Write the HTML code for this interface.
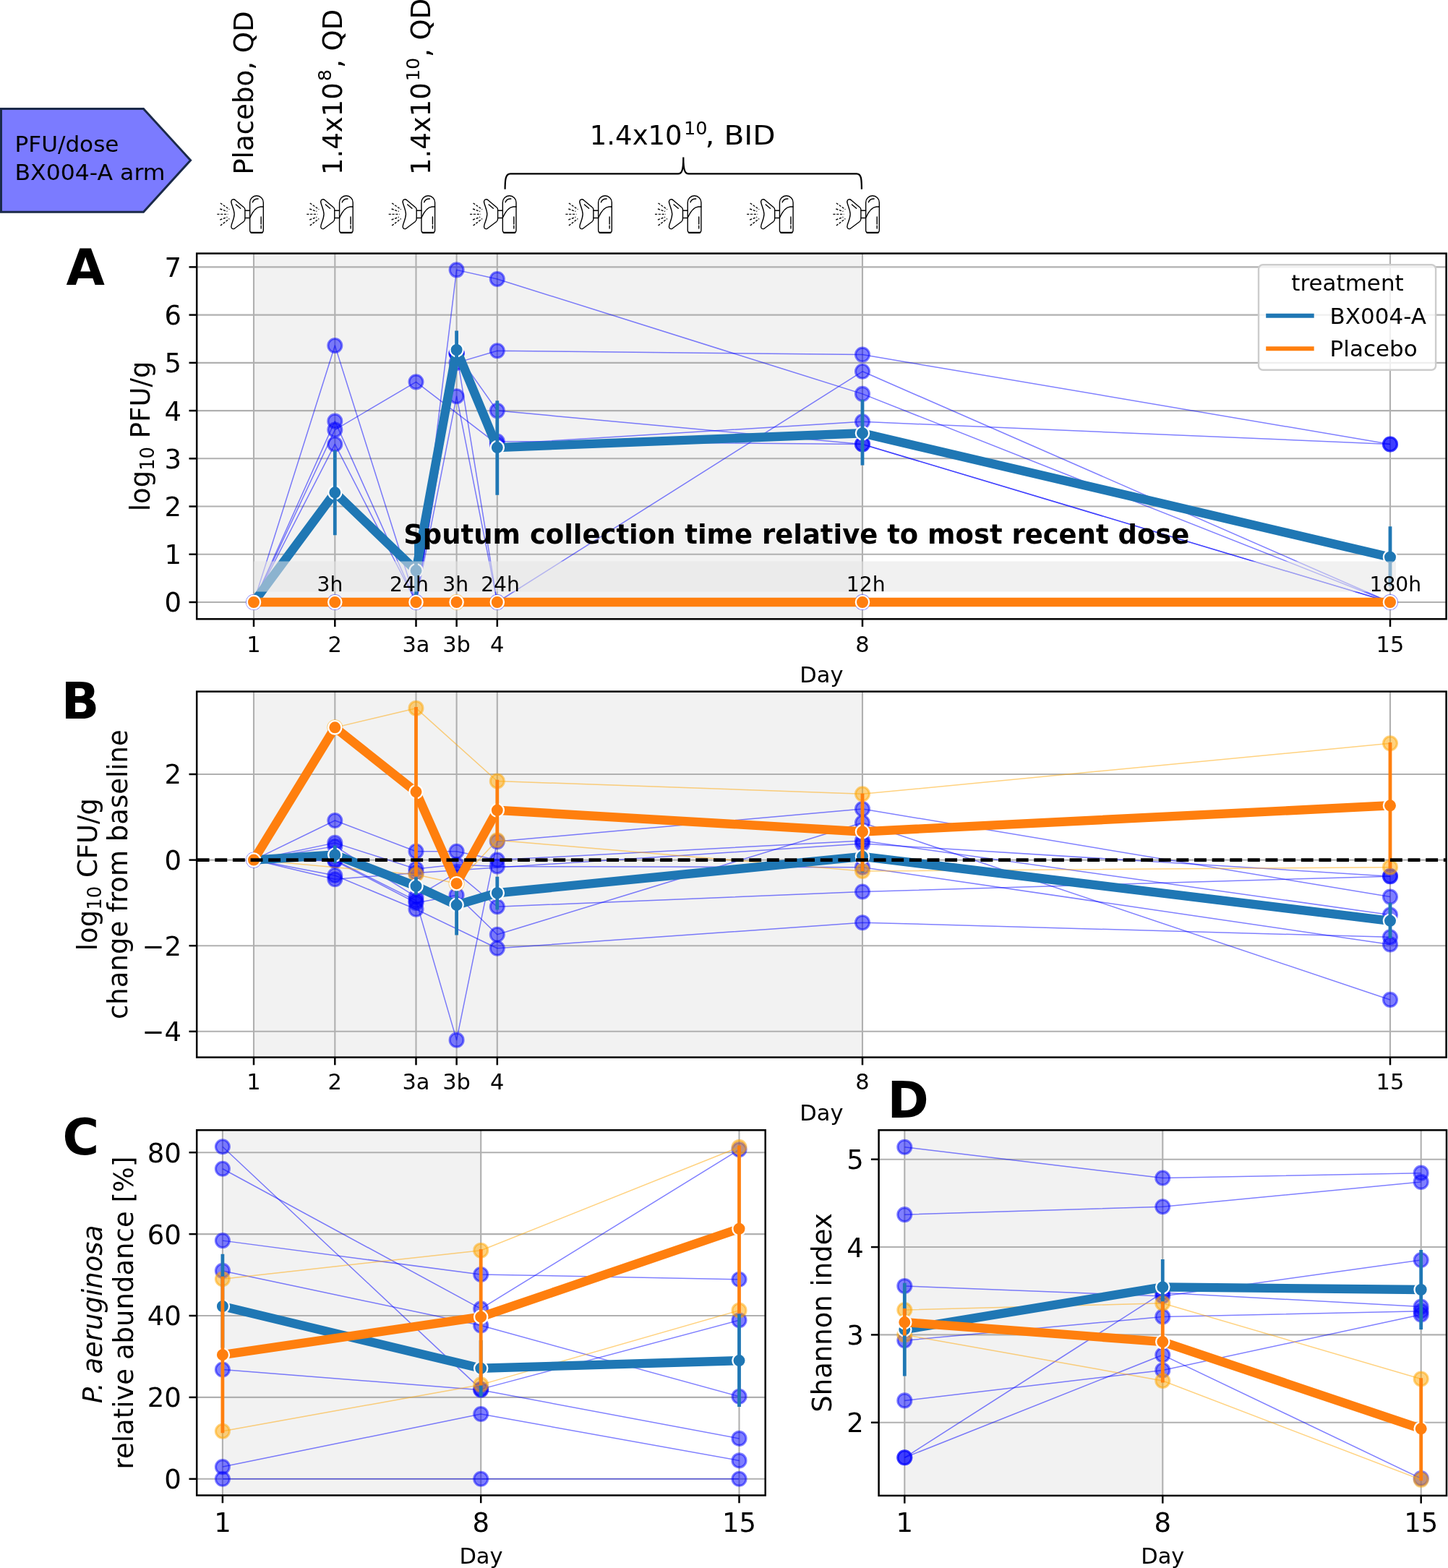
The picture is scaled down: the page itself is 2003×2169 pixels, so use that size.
<!DOCTYPE html><html><head><meta charset="utf-8"><title>Figure</title>
<style>html,body{margin:0;padding:0;background:#fff;overflow:hidden;}svg{display:block;}text{font-family:'DejaVu Sans', 'Liberation Sans', sans-serif;fill:#000;}</style></head><body>
<svg width="2003" height="2169" viewBox="0 0 2003 2169">
<defs>
<clipPath id="cA"><rect x="272.2" y="350.6" width="1728.4" height="505.7"/></clipPath>
<clipPath id="cB"><rect x="272.2" y="956.6" width="1728.4" height="506"/></clipPath>
<clipPath id="cC"><rect x="272.2" y="1563.3" width="786.5" height="505.2"/></clipPath>
<clipPath id="cD"><rect x="1215.6" y="1563.3" width="785.4" height="505.6"/></clipPath>
</defs>
<rect width="2003" height="2169" fill="#fff"/>
<polygon points="1.5,150.5 198.5,150.5 263.6,221.7 198.5,293.2 1.5,293.2" fill="#7b7bff" stroke="#1b2a4a" stroke-width="3"/>
<text x="20.5" y="210.3" font-size="29.5" textLength="144" lengthAdjust="spacingAndGlyphs">PFU/dose</text>
<text x="20.5" y="248.9" font-size="29.5" textLength="208" lengthAdjust="spacingAndGlyphs">BX004-A arm</text>
<text transform="translate(350.2,241.8) rotate(-90)" font-size="37" textLength="226.5" lengthAdjust="spacingAndGlyphs">Placebo, QD</text>
<text transform="translate(473.2,242) rotate(-90)" font-size="37">1.4x10</text>
<text transform="translate(457.6,112.3) rotate(-90)" font-size="25.6">8</text>
<text transform="translate(473.2,94) rotate(-90)" font-size="37">, QD</text>
<text transform="translate(595.2,242) rotate(-90)" font-size="37">1.4x10</text>
<text transform="translate(579.6,112.3) rotate(-90)" font-size="25.6">10</text>
<text transform="translate(595.2,79) rotate(-90)" font-size="37">, QD</text>
<text x="815.8" y="200.1" font-size="37">1.4x10</text>
<text x="946" y="185.5" font-size="25.6">10</text>
<text x="975.6" y="200.1" font-size="37" textLength="97" lengthAdjust="spacingAndGlyphs">, BID</text>
<path d="M698.6,261.8 C698.6,248 699.5,240.3 706,240.3 L938,240.3 C943,240.3 945.3,236 945.3,217.4 C945.3,236 947.6,240.3 952.6,240.3 L1185,240.3 C1191.5,240.3 1191.9,248 1191.9,261.8" fill="none" stroke="#000" stroke-width="2.2"/>
<g transform="translate(288.9,260) scale(0.05)"><g fill="none" stroke="#000" stroke-width="28" stroke-linecap="round" stroke-linejoin="round">
<path d="M1135,400 A186.5,185 0 0 1 1508,400 L1508,1172 Q1508,1240 1440,1240 L1203,1240 Q1135,1240 1135,1172 Z"/>
<path d="M1165,1236 L1478,1236" stroke-width="38"/>
<path d="M1210,395 Q1240,300 1365,300"/>
<path d="M1140,815 C1200,680 1300,530 1430,520 L1508,520"/>
<path d="M1445,800 L1445,1000 M1445,1045 L1445,1120"/>
<path d="M1005,625 L1135,625 M1005,830 L1135,830"/>
<path d="M690,315 C640,310 605,350 625,420 C645,500 700,600 705,725 C700,850 645,950 625,1030 C605,1100 640,1145 700,1130 L960,935 C990,910 1000,885 1000,850 L1000,600 C1000,570 990,550 960,530 L740,345 C725,328 710,318 690,315 Z"/>
<path d="M750,460 L875,565"/>
<path d="M320,420 L570,595 M310,580 L510,650 M230,727 L530,727 M310,880 L510,805 M320,1040 L570,850" stroke-dasharray="62 34" stroke-linecap="butt"/>
</g></g>
<g transform="translate(412.8,260) scale(0.05)"><g fill="none" stroke="#000" stroke-width="28" stroke-linecap="round" stroke-linejoin="round">
<path d="M1135,400 A186.5,185 0 0 1 1508,400 L1508,1172 Q1508,1240 1440,1240 L1203,1240 Q1135,1240 1135,1172 Z"/>
<path d="M1165,1236 L1478,1236" stroke-width="38"/>
<path d="M1210,395 Q1240,300 1365,300"/>
<path d="M1140,815 C1200,680 1300,530 1430,520 L1508,520"/>
<path d="M1445,800 L1445,1000 M1445,1045 L1445,1120"/>
<path d="M1005,625 L1135,625 M1005,830 L1135,830"/>
<path d="M690,315 C640,310 605,350 625,420 C645,500 700,600 705,725 C700,850 645,950 625,1030 C605,1100 640,1145 700,1130 L960,935 C990,910 1000,885 1000,850 L1000,600 C1000,570 990,550 960,530 L740,345 C725,328 710,318 690,315 Z"/>
<path d="M750,460 L875,565"/>
<path d="M320,420 L570,595 M310,580 L510,650 M230,727 L530,727 M310,880 L510,805 M320,1040 L570,850" stroke-dasharray="62 34" stroke-linecap="butt"/>
</g></g>
<g transform="translate(526.2,260) scale(0.05)"><g fill="none" stroke="#000" stroke-width="28" stroke-linecap="round" stroke-linejoin="round">
<path d="M1135,400 A186.5,185 0 0 1 1508,400 L1508,1172 Q1508,1240 1440,1240 L1203,1240 Q1135,1240 1135,1172 Z"/>
<path d="M1165,1236 L1478,1236" stroke-width="38"/>
<path d="M1210,395 Q1240,300 1365,300"/>
<path d="M1140,815 C1200,680 1300,530 1430,520 L1508,520"/>
<path d="M1445,800 L1445,1000 M1445,1045 L1445,1120"/>
<path d="M1005,625 L1135,625 M1005,830 L1135,830"/>
<path d="M690,315 C640,310 605,350 625,420 C645,500 700,600 705,725 C700,850 645,950 625,1030 C605,1100 640,1145 700,1130 L960,935 C990,910 1000,885 1000,850 L1000,600 C1000,570 990,550 960,530 L740,345 C725,328 710,318 690,315 Z"/>
<path d="M750,460 L875,565"/>
<path d="M320,420 L570,595 M310,580 L510,650 M230,727 L530,727 M310,880 L510,805 M320,1040 L570,850" stroke-dasharray="62 34" stroke-linecap="butt"/>
</g></g>
<g transform="translate(638.6,260) scale(0.05)"><g fill="none" stroke="#000" stroke-width="28" stroke-linecap="round" stroke-linejoin="round">
<path d="M1135,400 A186.5,185 0 0 1 1508,400 L1508,1172 Q1508,1240 1440,1240 L1203,1240 Q1135,1240 1135,1172 Z"/>
<path d="M1165,1236 L1478,1236" stroke-width="38"/>
<path d="M1210,395 Q1240,300 1365,300"/>
<path d="M1140,815 C1200,680 1300,530 1430,520 L1508,520"/>
<path d="M1445,800 L1445,1000 M1445,1045 L1445,1120"/>
<path d="M1005,625 L1135,625 M1005,830 L1135,830"/>
<path d="M690,315 C640,310 605,350 625,420 C645,500 700,600 705,725 C700,850 645,950 625,1030 C605,1100 640,1145 700,1130 L960,935 C990,910 1000,885 1000,850 L1000,600 C1000,570 990,550 960,530 L740,345 C725,328 710,318 690,315 Z"/>
<path d="M750,460 L875,565"/>
<path d="M320,420 L570,595 M310,580 L510,650 M230,727 L530,727 M310,880 L510,805 M320,1040 L570,850" stroke-dasharray="62 34" stroke-linecap="butt"/>
</g></g>
<g transform="translate(770.9,260) scale(0.05)"><g fill="none" stroke="#000" stroke-width="28" stroke-linecap="round" stroke-linejoin="round">
<path d="M1135,400 A186.5,185 0 0 1 1508,400 L1508,1172 Q1508,1240 1440,1240 L1203,1240 Q1135,1240 1135,1172 Z"/>
<path d="M1165,1236 L1478,1236" stroke-width="38"/>
<path d="M1210,395 Q1240,300 1365,300"/>
<path d="M1140,815 C1200,680 1300,530 1430,520 L1508,520"/>
<path d="M1445,800 L1445,1000 M1445,1045 L1445,1120"/>
<path d="M1005,625 L1135,625 M1005,830 L1135,830"/>
<path d="M690,315 C640,310 605,350 625,420 C645,500 700,600 705,725 C700,850 645,950 625,1030 C605,1100 640,1145 700,1130 L960,935 C990,910 1000,885 1000,850 L1000,600 C1000,570 990,550 960,530 L740,345 C725,328 710,318 690,315 Z"/>
<path d="M750,460 L875,565"/>
<path d="M320,420 L570,595 M310,580 L510,650 M230,727 L530,727 M310,880 L510,805 M320,1040 L570,850" stroke-dasharray="62 34" stroke-linecap="butt"/>
</g></g>
<g transform="translate(894.5,260) scale(0.05)"><g fill="none" stroke="#000" stroke-width="28" stroke-linecap="round" stroke-linejoin="round">
<path d="M1135,400 A186.5,185 0 0 1 1508,400 L1508,1172 Q1508,1240 1440,1240 L1203,1240 Q1135,1240 1135,1172 Z"/>
<path d="M1165,1236 L1478,1236" stroke-width="38"/>
<path d="M1210,395 Q1240,300 1365,300"/>
<path d="M1140,815 C1200,680 1300,530 1430,520 L1508,520"/>
<path d="M1445,800 L1445,1000 M1445,1045 L1445,1120"/>
<path d="M1005,625 L1135,625 M1005,830 L1135,830"/>
<path d="M690,315 C640,310 605,350 625,420 C645,500 700,600 705,725 C700,850 645,950 625,1030 C605,1100 640,1145 700,1130 L960,935 C990,910 1000,885 1000,850 L1000,600 C1000,570 990,550 960,530 L740,345 C725,328 710,318 690,315 Z"/>
<path d="M750,460 L875,565"/>
<path d="M320,420 L570,595 M310,580 L510,650 M230,727 L530,727 M310,880 L510,805 M320,1040 L570,850" stroke-dasharray="62 34" stroke-linecap="butt"/>
</g></g>
<g transform="translate(1021.7,260) scale(0.05)"><g fill="none" stroke="#000" stroke-width="28" stroke-linecap="round" stroke-linejoin="round">
<path d="M1135,400 A186.5,185 0 0 1 1508,400 L1508,1172 Q1508,1240 1440,1240 L1203,1240 Q1135,1240 1135,1172 Z"/>
<path d="M1165,1236 L1478,1236" stroke-width="38"/>
<path d="M1210,395 Q1240,300 1365,300"/>
<path d="M1140,815 C1200,680 1300,530 1430,520 L1508,520"/>
<path d="M1445,800 L1445,1000 M1445,1045 L1445,1120"/>
<path d="M1005,625 L1135,625 M1005,830 L1135,830"/>
<path d="M690,315 C640,310 605,350 625,420 C645,500 700,600 705,725 C700,850 645,950 625,1030 C605,1100 640,1145 700,1130 L960,935 C990,910 1000,885 1000,850 L1000,600 C1000,570 990,550 960,530 L740,345 C725,328 710,318 690,315 Z"/>
<path d="M750,460 L875,565"/>
<path d="M320,420 L570,595 M310,580 L510,650 M230,727 L530,727 M310,880 L510,805 M320,1040 L570,850" stroke-dasharray="62 34" stroke-linecap="butt"/>
</g></g>
<g transform="translate(1140.9,260) scale(0.05)"><g fill="none" stroke="#000" stroke-width="28" stroke-linecap="round" stroke-linejoin="round">
<path d="M1135,400 A186.5,185 0 0 1 1508,400 L1508,1172 Q1508,1240 1440,1240 L1203,1240 Q1135,1240 1135,1172 Z"/>
<path d="M1165,1236 L1478,1236" stroke-width="38"/>
<path d="M1210,395 Q1240,300 1365,300"/>
<path d="M1140,815 C1200,680 1300,530 1430,520 L1508,520"/>
<path d="M1445,800 L1445,1000 M1445,1045 L1445,1120"/>
<path d="M1005,625 L1135,625 M1005,830 L1135,830"/>
<path d="M690,315 C640,310 605,350 625,420 C645,500 700,600 705,725 C700,850 645,950 625,1030 C605,1100 640,1145 700,1130 L960,935 C990,910 1000,885 1000,850 L1000,600 C1000,570 990,550 960,530 L740,345 C725,328 710,318 690,315 Z"/>
<path d="M750,460 L875,565"/>
<path d="M320,420 L570,595 M310,580 L510,650 M230,727 L530,727 M310,880 L510,805 M320,1040 L570,850" stroke-dasharray="62 34" stroke-linecap="butt"/>
</g></g>
<rect x="351" y="350.6" width="842" height="505.7" fill="#f2f2f2"/>
<line x1="351" y1="350.6" x2="351" y2="856.3" stroke="#b0b0b0" stroke-width="2.1"/>
<line x1="463.3" y1="350.6" x2="463.3" y2="856.3" stroke="#b0b0b0" stroke-width="2.1"/>
<line x1="575.5" y1="350.6" x2="575.5" y2="856.3" stroke="#b0b0b0" stroke-width="2.1"/>
<line x1="631.6" y1="350.6" x2="631.6" y2="856.3" stroke="#b0b0b0" stroke-width="2.1"/>
<line x1="687.8" y1="350.6" x2="687.8" y2="856.3" stroke="#b0b0b0" stroke-width="2.1"/>
<line x1="1193" y1="350.6" x2="1193" y2="856.3" stroke="#b0b0b0" stroke-width="2.1"/>
<line x1="1923" y1="350.6" x2="1923" y2="856.3" stroke="#b0b0b0" stroke-width="2.1"/>
<line x1="272.2" y1="833" x2="2000.6" y2="833" stroke="#b0b0b0" stroke-width="2.1"/>
<line x1="272.2" y1="766.77" x2="2000.6" y2="766.77" stroke="#b0b0b0" stroke-width="2.1"/>
<line x1="272.2" y1="700.54" x2="2000.6" y2="700.54" stroke="#b0b0b0" stroke-width="2.1"/>
<line x1="272.2" y1="634.31" x2="2000.6" y2="634.31" stroke="#b0b0b0" stroke-width="2.1"/>
<line x1="272.2" y1="568.08" x2="2000.6" y2="568.08" stroke="#b0b0b0" stroke-width="2.1"/>
<line x1="272.2" y1="501.85" x2="2000.6" y2="501.85" stroke="#b0b0b0" stroke-width="2.1"/>
<line x1="272.2" y1="435.62" x2="2000.6" y2="435.62" stroke="#b0b0b0" stroke-width="2.1"/>
<line x1="272.2" y1="369.39" x2="2000.6" y2="369.39" stroke="#b0b0b0" stroke-width="2.1"/>
<g clip-path="url(#cA)">
<polyline points="351,833 463.3,478.01 575.5,833 631.6,373.36 687.8,385.95 1193,544.9 1923,833" fill="none" stroke="#0000ff" stroke-width="1.5" stroke-opacity="0.5" stroke-linejoin="round"/>
<circle cx="351" cy="833" r="9.5" fill="#0000ff" fill-opacity="0.5" stroke="#0000ff" stroke-opacity="0.5" stroke-width="3.1"/>
<circle cx="463.3" cy="478.01" r="9.5" fill="#0000ff" fill-opacity="0.5" stroke="#0000ff" stroke-opacity="0.5" stroke-width="3.1"/>
<circle cx="575.5" cy="833" r="9.5" fill="#0000ff" fill-opacity="0.5" stroke="#0000ff" stroke-opacity="0.5" stroke-width="3.1"/>
<circle cx="631.6" cy="373.36" r="9.5" fill="#0000ff" fill-opacity="0.5" stroke="#0000ff" stroke-opacity="0.5" stroke-width="3.1"/>
<circle cx="687.8" cy="385.95" r="9.5" fill="#0000ff" fill-opacity="0.5" stroke="#0000ff" stroke-opacity="0.5" stroke-width="3.1"/>
<circle cx="1193" cy="544.9" r="9.5" fill="#0000ff" fill-opacity="0.5" stroke="#0000ff" stroke-opacity="0.5" stroke-width="3.1"/>
<circle cx="1923" cy="833" r="9.5" fill="#0000ff" fill-opacity="0.5" stroke="#0000ff" stroke-opacity="0.5" stroke-width="3.1"/>
<polyline points="351,833 463.3,594.57 575.5,528.34 687.8,614.44 1193,583.31 1923,614.44" fill="none" stroke="#0000ff" stroke-width="1.5" stroke-opacity="0.5" stroke-linejoin="round"/>
<circle cx="463.3" cy="594.57" r="9.5" fill="#0000ff" fill-opacity="0.5" stroke="#0000ff" stroke-opacity="0.5" stroke-width="3.1"/>
<circle cx="575.5" cy="528.34" r="9.5" fill="#0000ff" fill-opacity="0.5" stroke="#0000ff" stroke-opacity="0.5" stroke-width="3.1"/>
<circle cx="687.8" cy="614.44" r="9.5" fill="#0000ff" fill-opacity="0.5" stroke="#0000ff" stroke-opacity="0.5" stroke-width="3.1"/>
<circle cx="1193" cy="583.31" r="9.5" fill="#0000ff" fill-opacity="0.5" stroke="#0000ff" stroke-opacity="0.5" stroke-width="3.1"/>
<circle cx="1923" cy="614.44" r="9.5" fill="#0000ff" fill-opacity="0.5" stroke="#0000ff" stroke-opacity="0.5" stroke-width="3.1"/>
<polyline points="351,833 463.3,582.65 575.5,833 631.6,548.21 687.8,833 1193,513.77 1923,833" fill="none" stroke="#0000ff" stroke-width="1.5" stroke-opacity="0.5" stroke-linejoin="round"/>
<circle cx="463.3" cy="582.65" r="9.5" fill="#0000ff" fill-opacity="0.5" stroke="#0000ff" stroke-opacity="0.5" stroke-width="3.1"/>
<circle cx="631.6" cy="548.21" r="9.5" fill="#0000ff" fill-opacity="0.5" stroke="#0000ff" stroke-opacity="0.5" stroke-width="3.1"/>
<circle cx="687.8" cy="833" r="9.5" fill="#0000ff" fill-opacity="0.5" stroke="#0000ff" stroke-opacity="0.5" stroke-width="3.1"/>
<circle cx="1193" cy="513.77" r="9.5" fill="#0000ff" fill-opacity="0.5" stroke="#0000ff" stroke-opacity="0.5" stroke-width="3.1"/>
<polyline points="351,833 463.3,614.44 575.5,833 631.6,501.85 687.8,485.29 1193,490.59 1923,614.44" fill="none" stroke="#0000ff" stroke-width="1.5" stroke-opacity="0.5" stroke-linejoin="round"/>
<circle cx="463.3" cy="614.44" r="9.5" fill="#0000ff" fill-opacity="0.5" stroke="#0000ff" stroke-opacity="0.5" stroke-width="3.1"/>
<circle cx="631.6" cy="501.85" r="9.5" fill="#0000ff" fill-opacity="0.5" stroke="#0000ff" stroke-opacity="0.5" stroke-width="3.1"/>
<circle cx="687.8" cy="485.29" r="9.5" fill="#0000ff" fill-opacity="0.5" stroke="#0000ff" stroke-opacity="0.5" stroke-width="3.1"/>
<circle cx="1193" cy="490.59" r="9.5" fill="#0000ff" fill-opacity="0.5" stroke="#0000ff" stroke-opacity="0.5" stroke-width="3.1"/>
<circle cx="1923" cy="614.44" r="9.5" fill="#0000ff" fill-opacity="0.5" stroke="#0000ff" stroke-opacity="0.5" stroke-width="3.1"/>
<polyline points="351,833 463.3,833 575.5,833 631.6,488.6 687.8,568.08 1193,614.44 1923,833" fill="none" stroke="#0000ff" stroke-width="1.5" stroke-opacity="0.5" stroke-linejoin="round"/>
<circle cx="463.3" cy="833" r="9.5" fill="#0000ff" fill-opacity="0.5" stroke="#0000ff" stroke-opacity="0.5" stroke-width="3.1"/>
<circle cx="631.6" cy="488.6" r="9.5" fill="#0000ff" fill-opacity="0.5" stroke="#0000ff" stroke-opacity="0.5" stroke-width="3.1"/>
<circle cx="687.8" cy="568.08" r="9.5" fill="#0000ff" fill-opacity="0.5" stroke="#0000ff" stroke-opacity="0.5" stroke-width="3.1"/>
<circle cx="1193" cy="614.44" r="9.5" fill="#0000ff" fill-opacity="0.5" stroke="#0000ff" stroke-opacity="0.5" stroke-width="3.1"/>
<polyline points="351,833 463.3,833 575.5,833 631.6,488.6 687.8,610.47 1193,614.44 1923,833" fill="none" stroke="#0000ff" stroke-width="1.5" stroke-opacity="0.5" stroke-linejoin="round"/>
<circle cx="631.6" cy="488.6" r="9.5" fill="#0000ff" fill-opacity="0.5" stroke="#0000ff" stroke-opacity="0.5" stroke-width="3.1"/>
<circle cx="687.8" cy="610.47" r="9.5" fill="#0000ff" fill-opacity="0.5" stroke="#0000ff" stroke-opacity="0.5" stroke-width="3.1"/>
<circle cx="1193" cy="614.44" r="9.5" fill="#0000ff" fill-opacity="0.5" stroke="#0000ff" stroke-opacity="0.5" stroke-width="3.1"/>
<polyline points="351,833 463.3,833 575.5,833 631.6,488.6 687.8,833 1193,833 1923,833" fill="none" stroke="#0000ff" stroke-width="1.5" stroke-opacity="0.5" stroke-linejoin="round"/>
<circle cx="631.6" cy="488.6" r="9.5" fill="#0000ff" fill-opacity="0.5" stroke="#0000ff" stroke-opacity="0.5" stroke-width="3.1"/>
<circle cx="1193" cy="833" r="9.5" fill="#0000ff" fill-opacity="0.5" stroke="#0000ff" stroke-opacity="0.5" stroke-width="3.1"/>
<polyline points="351,833 463.3,833 575.5,833 687.8,833 1193,833 1923,833" fill="none" stroke="#ffa500" stroke-width="1.5" stroke-opacity="0.5" stroke-linejoin="round"/>
<polyline points="351,833 575.5,833 631.6,833 687.8,833 1193,833 1923,833" fill="none" stroke="#ffa500" stroke-width="1.5" stroke-opacity="0.5" stroke-linejoin="round"/>
<circle cx="631.6" cy="833" r="9.5" fill="#ffa500" fill-opacity="0.5" stroke="#ffa500" stroke-opacity="0.5" stroke-width="3.1"/>
<polyline points="351,833 463.3,681.33 575.5,789.29 631.6,483.97 687.8,619.08 1193,599.21 1923,770.74" fill="none" stroke="#1f77b4" stroke-width="12.4" stroke-linejoin="round"/>
<circle cx="351" cy="833" r="9.15" fill="#1f77b4" stroke="#fff" stroke-width="2.3"/>
<circle cx="463.3" cy="681.33" r="9.15" fill="#1f77b4" stroke="#fff" stroke-width="2.3"/>
<circle cx="575.5" cy="789.29" r="9.15" fill="#1f77b4" stroke="#fff" stroke-width="2.3"/>
<circle cx="631.6" cy="483.97" r="9.15" fill="#1f77b4" stroke="#fff" stroke-width="2.3"/>
<circle cx="687.8" cy="619.08" r="9.15" fill="#1f77b4" stroke="#fff" stroke-width="2.3"/>
<circle cx="1193" cy="599.21" r="9.15" fill="#1f77b4" stroke="#fff" stroke-width="2.3"/>
<circle cx="1923" cy="770.74" r="9.15" fill="#1f77b4" stroke="#fff" stroke-width="2.3"/>
<line x1="463.3" y1="740.28" x2="463.3" y2="623.05" stroke="#1f77b4" stroke-width="4.8"/>
<line x1="575.5" y1="826.38" x2="575.5" y2="746.9" stroke="#1f77b4" stroke-width="4.8"/>
<line x1="631.6" y1="501.85" x2="631.6" y2="457.48" stroke="#1f77b4" stroke-width="4.8"/>
<line x1="687.8" y1="684.64" x2="687.8" y2="554.17" stroke="#1f77b4" stroke-width="4.8"/>
<line x1="1193" y1="643.58" x2="1193" y2="552.85" stroke="#1f77b4" stroke-width="4.8"/>
<line x1="1923" y1="810.48" x2="1923" y2="728.36" stroke="#1f77b4" stroke-width="4.8"/>
<polyline points="351,833 463.3,833 575.5,833 631.6,833 687.8,833 1193,833 1923,833" fill="none" stroke="#ff7f0e" stroke-width="12.4" stroke-linejoin="round"/>
<circle cx="351" cy="833" r="9.15" fill="#ff7f0e" stroke="#fff" stroke-width="2.3"/>
<circle cx="463.3" cy="833" r="9.15" fill="#ff7f0e" stroke="#fff" stroke-width="2.3"/>
<circle cx="575.5" cy="833" r="9.15" fill="#ff7f0e" stroke="#fff" stroke-width="2.3"/>
<circle cx="631.6" cy="833" r="9.15" fill="#ff7f0e" stroke="#fff" stroke-width="2.3"/>
<circle cx="687.8" cy="833" r="9.15" fill="#ff7f0e" stroke="#fff" stroke-width="2.3"/>
<circle cx="1193" cy="833" r="9.15" fill="#ff7f0e" stroke="#fff" stroke-width="2.3"/>
<circle cx="1923" cy="833" r="9.15" fill="#ff7f0e" stroke="#fff" stroke-width="2.3"/>
<rect x="351" y="776.5" width="580" height="42" fill="#e6e6e6" fill-opacity="0.55"/>
<rect x="931" y="776.5" width="1000" height="42" fill="#e6e6e6" fill-opacity="0.55"/>
</g>
<text x="456.4" y="817.9" font-size="28.2" text-anchor="middle">3h</text>
<text x="565.9" y="817.9" font-size="28.2" text-anchor="middle">24h</text>
<text x="630.2" y="817.9" font-size="28.2" text-anchor="middle">3h</text>
<text x="692" y="817.9" font-size="28.2" text-anchor="middle">24h</text>
<text x="1197.7" y="817.9" font-size="28.2" text-anchor="middle">12h</text>
<text x="1930.3" y="817.9" font-size="28.2" text-anchor="middle">180h</text>
<text x="1101.8" y="752.1" font-size="36.95" text-anchor="middle" font-weight="bold">Sputum collection time relative to most recent dose</text>
<rect x="272.2" y="350.6" width="1728.4" height="505.7" fill="none" stroke="#000" stroke-width="2.5"/>
<line x1="351" y1="856.3" x2="351" y2="867" stroke="#000" stroke-width="2.5"/>
<text x="351" y="901.8" font-size="30.5" text-anchor="middle">1</text>
<line x1="463.3" y1="856.3" x2="463.3" y2="867" stroke="#000" stroke-width="2.5"/>
<text x="463.3" y="901.8" font-size="30.5" text-anchor="middle">2</text>
<line x1="575.5" y1="856.3" x2="575.5" y2="867" stroke="#000" stroke-width="2.5"/>
<text x="575.5" y="901.8" font-size="30.5" text-anchor="middle">3a</text>
<line x1="631.6" y1="856.3" x2="631.6" y2="867" stroke="#000" stroke-width="2.5"/>
<text x="631.6" y="901.8" font-size="30.5" text-anchor="middle">3b</text>
<line x1="687.8" y1="856.3" x2="687.8" y2="867" stroke="#000" stroke-width="2.5"/>
<text x="687.8" y="901.8" font-size="30.5" text-anchor="middle">4</text>
<line x1="1193" y1="856.3" x2="1193" y2="867" stroke="#000" stroke-width="2.5"/>
<text x="1193" y="901.8" font-size="30.5" text-anchor="middle">8</text>
<line x1="1923" y1="856.3" x2="1923" y2="867" stroke="#000" stroke-width="2.5"/>
<text x="1923" y="901.8" font-size="30.5" text-anchor="middle">15</text>
<line x1="261.5" y1="833" x2="272.2" y2="833" stroke="#000" stroke-width="2.5"/>
<text x="251" y="846.49" font-size="37" text-anchor="end">0</text>
<line x1="261.5" y1="766.77" x2="272.2" y2="766.77" stroke="#000" stroke-width="2.5"/>
<text x="251" y="780.26" font-size="37" text-anchor="end">1</text>
<line x1="261.5" y1="700.54" x2="272.2" y2="700.54" stroke="#000" stroke-width="2.5"/>
<text x="251" y="714.03" font-size="37" text-anchor="end">2</text>
<line x1="261.5" y1="634.31" x2="272.2" y2="634.31" stroke="#000" stroke-width="2.5"/>
<text x="251" y="647.8" font-size="37" text-anchor="end">3</text>
<line x1="261.5" y1="568.08" x2="272.2" y2="568.08" stroke="#000" stroke-width="2.5"/>
<text x="251" y="581.57" font-size="37" text-anchor="end">4</text>
<line x1="261.5" y1="501.85" x2="272.2" y2="501.85" stroke="#000" stroke-width="2.5"/>
<text x="251" y="515.34" font-size="37" text-anchor="end">5</text>
<line x1="261.5" y1="435.62" x2="272.2" y2="435.62" stroke="#000" stroke-width="2.5"/>
<text x="251" y="449.11" font-size="37" text-anchor="end">6</text>
<line x1="261.5" y1="369.39" x2="272.2" y2="369.39" stroke="#000" stroke-width="2.5"/>
<text x="251" y="382.88" font-size="37" text-anchor="end">7</text>
<text x="1136.4" y="943.9" font-size="30.5" text-anchor="middle">Day</text>
<text transform="translate(206.8,603.4) rotate(-90)" font-size="37" text-anchor="middle">log<tspan font-size="25.9" dy="6">10</tspan><tspan dy="-6"> PFU/g</tspan></text>
<rect x="1741" y="366.2" width="245.1" height="145.6" rx="6" fill="#fff" fill-opacity="0.8" stroke="#cccccc" stroke-width="2.4"/>
<text x="1864" y="402.3" font-size="31" text-anchor="middle">treatment</text>
<line x1="1751.2" y1="436.7" x2="1817.7" y2="436.7" stroke="#1f77b4" stroke-width="6.1"/>
<text x="1839.6" y="447.9" font-size="31">BX004-A</text>
<line x1="1751.2" y1="482.3" x2="1817.7" y2="482.3" stroke="#ff7f0e" stroke-width="6.1"/>
<text x="1839.6" y="493.3" font-size="31">Placebo</text>
<rect x="351" y="956.6" width="842" height="506" fill="#f2f2f2"/>
<line x1="351" y1="956.6" x2="351" y2="1462.6" stroke="#b0b0b0" stroke-width="2.1"/>
<line x1="463.3" y1="956.6" x2="463.3" y2="1462.6" stroke="#b0b0b0" stroke-width="2.1"/>
<line x1="575.5" y1="956.6" x2="575.5" y2="1462.6" stroke="#b0b0b0" stroke-width="2.1"/>
<line x1="631.6" y1="956.6" x2="631.6" y2="1462.6" stroke="#b0b0b0" stroke-width="2.1"/>
<line x1="687.8" y1="956.6" x2="687.8" y2="1462.6" stroke="#b0b0b0" stroke-width="2.1"/>
<line x1="1193" y1="956.6" x2="1193" y2="1462.6" stroke="#b0b0b0" stroke-width="2.1"/>
<line x1="1923" y1="956.6" x2="1923" y2="1462.6" stroke="#b0b0b0" stroke-width="2.1"/>
<line x1="272.2" y1="1426.8" x2="2000.6" y2="1426.8" stroke="#b0b0b0" stroke-width="2.1"/>
<line x1="272.2" y1="1308.2" x2="2000.6" y2="1308.2" stroke="#b0b0b0" stroke-width="2.1"/>
<line x1="272.2" y1="1189.6" x2="2000.6" y2="1189.6" stroke="#b0b0b0" stroke-width="2.1"/>
<line x1="272.2" y1="1071" x2="2000.6" y2="1071" stroke="#b0b0b0" stroke-width="2.1"/>
<g clip-path="url(#cB)">
<polyline points="351,1189.6 463.3,1135.04 575.5,1177.74 631.6,1177.74 687.8,1189.6 1193,1162.91 1923,1265.5" fill="none" stroke="#0000ff" stroke-width="1.5" stroke-opacity="0.5" stroke-linejoin="round"/>
<circle cx="351" cy="1189.6" r="9.5" fill="#0000ff" fill-opacity="0.5" stroke="#0000ff" stroke-opacity="0.5" stroke-width="3.1"/>
<circle cx="463.3" cy="1135.04" r="9.5" fill="#0000ff" fill-opacity="0.5" stroke="#0000ff" stroke-opacity="0.5" stroke-width="3.1"/>
<circle cx="575.5" cy="1177.74" r="9.5" fill="#0000ff" fill-opacity="0.5" stroke="#0000ff" stroke-opacity="0.5" stroke-width="3.1"/>
<circle cx="631.6" cy="1177.74" r="9.5" fill="#0000ff" fill-opacity="0.5" stroke="#0000ff" stroke-opacity="0.5" stroke-width="3.1"/>
<circle cx="687.8" cy="1189.6" r="9.5" fill="#0000ff" fill-opacity="0.5" stroke="#0000ff" stroke-opacity="0.5" stroke-width="3.1"/>
<circle cx="1193" cy="1162.91" r="9.5" fill="#0000ff" fill-opacity="0.5" stroke="#0000ff" stroke-opacity="0.5" stroke-width="3.1"/>
<circle cx="1923" cy="1265.5" r="9.5" fill="#0000ff" fill-opacity="0.5" stroke="#0000ff" stroke-opacity="0.5" stroke-width="3.1"/>
<polyline points="351,1189.6 463.3,1165.88 575.5,1202.05 631.6,1196.12 687.8,1198.49 1193,1199.68 1923,1306.42" fill="none" stroke="#0000ff" stroke-width="1.5" stroke-opacity="0.5" stroke-linejoin="round"/>
<circle cx="463.3" cy="1165.88" r="9.5" fill="#0000ff" fill-opacity="0.5" stroke="#0000ff" stroke-opacity="0.5" stroke-width="3.1"/>
<circle cx="575.5" cy="1202.05" r="9.5" fill="#0000ff" fill-opacity="0.5" stroke="#0000ff" stroke-opacity="0.5" stroke-width="3.1"/>
<circle cx="631.6" cy="1196.12" r="9.5" fill="#0000ff" fill-opacity="0.5" stroke="#0000ff" stroke-opacity="0.5" stroke-width="3.1"/>
<circle cx="687.8" cy="1198.49" r="9.5" fill="#0000ff" fill-opacity="0.5" stroke="#0000ff" stroke-opacity="0.5" stroke-width="3.1"/>
<circle cx="1193" cy="1199.68" r="9.5" fill="#0000ff" fill-opacity="0.5" stroke="#0000ff" stroke-opacity="0.5" stroke-width="3.1"/>
<circle cx="1923" cy="1306.42" r="9.5" fill="#0000ff" fill-opacity="0.5" stroke="#0000ff" stroke-opacity="0.5" stroke-width="3.1"/>
<polyline points="351,1189.6 463.3,1170.62 575.5,1240.6 631.6,1207.39 687.8,1254.24 1193,1233.48 1923,1212.13" fill="none" stroke="#0000ff" stroke-width="1.5" stroke-opacity="0.5" stroke-linejoin="round"/>
<circle cx="463.3" cy="1170.62" r="9.5" fill="#0000ff" fill-opacity="0.5" stroke="#0000ff" stroke-opacity="0.5" stroke-width="3.1"/>
<circle cx="575.5" cy="1240.6" r="9.5" fill="#0000ff" fill-opacity="0.5" stroke="#0000ff" stroke-opacity="0.5" stroke-width="3.1"/>
<circle cx="631.6" cy="1207.39" r="9.5" fill="#0000ff" fill-opacity="0.5" stroke="#0000ff" stroke-opacity="0.5" stroke-width="3.1"/>
<circle cx="687.8" cy="1254.24" r="9.5" fill="#0000ff" fill-opacity="0.5" stroke="#0000ff" stroke-opacity="0.5" stroke-width="3.1"/>
<circle cx="1193" cy="1233.48" r="9.5" fill="#0000ff" fill-opacity="0.5" stroke="#0000ff" stroke-opacity="0.5" stroke-width="3.1"/>
<circle cx="1923" cy="1212.13" r="9.5" fill="#0000ff" fill-opacity="0.5" stroke="#0000ff" stroke-opacity="0.5" stroke-width="3.1"/>
<polyline points="351,1189.6 463.3,1189.6 575.5,1245.93 631.6,1438.66 687.8,1164.1 1193,1119.03 1923,1240.6" fill="none" stroke="#0000ff" stroke-width="1.5" stroke-opacity="0.5" stroke-linejoin="round"/>
<circle cx="463.3" cy="1189.6" r="9.5" fill="#0000ff" fill-opacity="0.5" stroke="#0000ff" stroke-opacity="0.5" stroke-width="3.1"/>
<circle cx="575.5" cy="1245.93" r="9.5" fill="#0000ff" fill-opacity="0.5" stroke="#0000ff" stroke-opacity="0.5" stroke-width="3.1"/>
<circle cx="631.6" cy="1438.66" r="9.5" fill="#0000ff" fill-opacity="0.5" stroke="#0000ff" stroke-opacity="0.5" stroke-width="3.1"/>
<circle cx="687.8" cy="1164.1" r="9.5" fill="#0000ff" fill-opacity="0.5" stroke="#0000ff" stroke-opacity="0.5" stroke-width="3.1"/>
<circle cx="1193" cy="1119.03" r="9.5" fill="#0000ff" fill-opacity="0.5" stroke="#0000ff" stroke-opacity="0.5" stroke-width="3.1"/>
<circle cx="1923" cy="1240.6" r="9.5" fill="#0000ff" fill-opacity="0.5" stroke="#0000ff" stroke-opacity="0.5" stroke-width="3.1"/>
<polyline points="351,1189.6 463.3,1190.79 575.5,1248.9 631.6,1238.23 687.8,1292.78 1193,1138.01 1923,1382.92" fill="none" stroke="#0000ff" stroke-width="1.5" stroke-opacity="0.5" stroke-linejoin="round"/>
<circle cx="463.3" cy="1190.79" r="9.5" fill="#0000ff" fill-opacity="0.5" stroke="#0000ff" stroke-opacity="0.5" stroke-width="3.1"/>
<circle cx="575.5" cy="1248.9" r="9.5" fill="#0000ff" fill-opacity="0.5" stroke="#0000ff" stroke-opacity="0.5" stroke-width="3.1"/>
<circle cx="631.6" cy="1238.23" r="9.5" fill="#0000ff" fill-opacity="0.5" stroke="#0000ff" stroke-opacity="0.5" stroke-width="3.1"/>
<circle cx="687.8" cy="1292.78" r="9.5" fill="#0000ff" fill-opacity="0.5" stroke="#0000ff" stroke-opacity="0.5" stroke-width="3.1"/>
<circle cx="1193" cy="1138.01" r="9.5" fill="#0000ff" fill-opacity="0.5" stroke="#0000ff" stroke-opacity="0.5" stroke-width="3.1"/>
<circle cx="1923" cy="1382.92" r="9.5" fill="#0000ff" fill-opacity="0.5" stroke="#0000ff" stroke-opacity="0.5" stroke-width="3.1"/>
<polyline points="351,1189.6 463.3,1210.95 575.5,1257.79 687.8,1311.76 1193,1276.18 1923,1296.34" fill="none" stroke="#0000ff" stroke-width="1.5" stroke-opacity="0.5" stroke-linejoin="round"/>
<circle cx="463.3" cy="1210.95" r="9.5" fill="#0000ff" fill-opacity="0.5" stroke="#0000ff" stroke-opacity="0.5" stroke-width="3.1"/>
<circle cx="575.5" cy="1257.79" r="9.5" fill="#0000ff" fill-opacity="0.5" stroke="#0000ff" stroke-opacity="0.5" stroke-width="3.1"/>
<circle cx="687.8" cy="1311.76" r="9.5" fill="#0000ff" fill-opacity="0.5" stroke="#0000ff" stroke-opacity="0.5" stroke-width="3.1"/>
<circle cx="1193" cy="1276.18" r="9.5" fill="#0000ff" fill-opacity="0.5" stroke="#0000ff" stroke-opacity="0.5" stroke-width="3.1"/>
<circle cx="1923" cy="1296.34" r="9.5" fill="#0000ff" fill-opacity="0.5" stroke="#0000ff" stroke-opacity="0.5" stroke-width="3.1"/>
<polyline points="351,1189.6 463.3,1216.28 575.5,1207.39 1193,1167.07 1923,1212.13" fill="none" stroke="#0000ff" stroke-width="1.5" stroke-opacity="0.5" stroke-linejoin="round"/>
<circle cx="463.3" cy="1216.28" r="9.5" fill="#0000ff" fill-opacity="0.5" stroke="#0000ff" stroke-opacity="0.5" stroke-width="3.1"/>
<circle cx="575.5" cy="1207.39" r="9.5" fill="#0000ff" fill-opacity="0.5" stroke="#0000ff" stroke-opacity="0.5" stroke-width="3.1"/>
<circle cx="1193" cy="1167.07" r="9.5" fill="#0000ff" fill-opacity="0.5" stroke="#0000ff" stroke-opacity="0.5" stroke-width="3.1"/>
<circle cx="1923" cy="1212.13" r="9.5" fill="#0000ff" fill-opacity="0.5" stroke="#0000ff" stroke-opacity="0.5" stroke-width="3.1"/>
<polyline points="351,1189.6 463.3,1006.36 575.5,979.68 687.8,1080.49 1193,1098.28 1923,1028.3" fill="none" stroke="#ffa500" stroke-width="1.5" stroke-opacity="0.5" stroke-linejoin="round"/>
<circle cx="463.3" cy="1006.36" r="9.5" fill="#ffa500" fill-opacity="0.5" stroke="#ffa500" stroke-opacity="0.5" stroke-width="3.1"/>
<circle cx="575.5" cy="979.68" r="9.5" fill="#ffa500" fill-opacity="0.5" stroke="#ffa500" stroke-opacity="0.5" stroke-width="3.1"/>
<circle cx="687.8" cy="1080.49" r="9.5" fill="#ffa500" fill-opacity="0.5" stroke="#ffa500" stroke-opacity="0.5" stroke-width="3.1"/>
<circle cx="1193" cy="1098.28" r="9.5" fill="#ffa500" fill-opacity="0.5" stroke="#ffa500" stroke-opacity="0.5" stroke-width="3.1"/>
<circle cx="1923" cy="1028.3" r="9.5" fill="#ffa500" fill-opacity="0.5" stroke="#ffa500" stroke-opacity="0.5" stroke-width="3.1"/>
<polyline points="351,1189.6 575.5,1209.76 631.6,1222.21 687.8,1162.32 1193,1205.02 1923,1199.68" fill="none" stroke="#ffa500" stroke-width="1.5" stroke-opacity="0.5" stroke-linejoin="round"/>
<circle cx="575.5" cy="1209.76" r="9.5" fill="#ffa500" fill-opacity="0.5" stroke="#ffa500" stroke-opacity="0.5" stroke-width="3.1"/>
<circle cx="631.6" cy="1222.21" r="9.5" fill="#ffa500" fill-opacity="0.5" stroke="#ffa500" stroke-opacity="0.5" stroke-width="3.1"/>
<circle cx="687.8" cy="1162.32" r="9.5" fill="#ffa500" fill-opacity="0.5" stroke="#ffa500" stroke-opacity="0.5" stroke-width="3.1"/>
<circle cx="1193" cy="1205.02" r="9.5" fill="#ffa500" fill-opacity="0.5" stroke="#ffa500" stroke-opacity="0.5" stroke-width="3.1"/>
<circle cx="1923" cy="1199.68" r="9.5" fill="#ffa500" fill-opacity="0.5" stroke="#ffa500" stroke-opacity="0.5" stroke-width="3.1"/>
<polyline points="351,1189.6 463.3,1182.48 575.5,1225.77 631.6,1251.87 687.8,1235.26 1193,1184.86 1923,1273.81" fill="none" stroke="#1f77b4" stroke-width="12.4" stroke-linejoin="round"/>
<circle cx="351" cy="1189.6" r="9.15" fill="#1f77b4" stroke="#fff" stroke-width="2.3"/>
<circle cx="463.3" cy="1182.48" r="9.15" fill="#1f77b4" stroke="#fff" stroke-width="2.3"/>
<circle cx="575.5" cy="1225.77" r="9.15" fill="#1f77b4" stroke="#fff" stroke-width="2.3"/>
<circle cx="631.6" cy="1251.87" r="9.15" fill="#1f77b4" stroke="#fff" stroke-width="2.3"/>
<circle cx="687.8" cy="1235.26" r="9.15" fill="#1f77b4" stroke="#fff" stroke-width="2.3"/>
<circle cx="1193" cy="1184.86" r="9.15" fill="#1f77b4" stroke="#fff" stroke-width="2.3"/>
<circle cx="1923" cy="1273.81" r="9.15" fill="#1f77b4" stroke="#fff" stroke-width="2.3"/>
<line x1="463.3" y1="1194.34" x2="463.3" y2="1169.44" stroke="#1f77b4" stroke-width="4.8"/>
<line x1="575.5" y1="1237.63" x2="575.5" y2="1213.32" stroke="#1f77b4" stroke-width="4.8"/>
<line x1="631.6" y1="1293.38" x2="631.6" y2="1216.28" stroke="#1f77b4" stroke-width="4.8"/>
<line x1="687.8" y1="1258.39" x2="687.8" y2="1212.73" stroke="#1f77b4" stroke-width="4.8"/>
<line x1="1193" y1="1206.8" x2="1193" y2="1159.95" stroke="#1f77b4" stroke-width="4.8"/>
<line x1="1923" y1="1298.12" x2="1923" y2="1248.9" stroke="#1f77b4" stroke-width="4.8"/>
<polyline points="351,1189.6 463.3,1006.36 575.5,1095.31 631.6,1222.21 687.8,1120.81 1193,1150.46 1923,1114.29" fill="none" stroke="#ff7f0e" stroke-width="12.4" stroke-linejoin="round"/>
<circle cx="351" cy="1189.6" r="9.15" fill="#ff7f0e" stroke="#fff" stroke-width="2.3"/>
<circle cx="463.3" cy="1006.36" r="9.15" fill="#ff7f0e" stroke="#fff" stroke-width="2.3"/>
<circle cx="575.5" cy="1095.31" r="9.15" fill="#ff7f0e" stroke="#fff" stroke-width="2.3"/>
<circle cx="631.6" cy="1222.21" r="9.15" fill="#ff7f0e" stroke="#fff" stroke-width="2.3"/>
<circle cx="687.8" cy="1120.81" r="9.15" fill="#ff7f0e" stroke="#fff" stroke-width="2.3"/>
<circle cx="1193" cy="1150.46" r="9.15" fill="#ff7f0e" stroke="#fff" stroke-width="2.3"/>
<circle cx="1923" cy="1114.29" r="9.15" fill="#ff7f0e" stroke="#fff" stroke-width="2.3"/>
<line x1="575.5" y1="1212.13" x2="575.5" y2="977.9" stroke="#ff7f0e" stroke-width="4.8"/>
<line x1="687.8" y1="1162.91" x2="687.8" y2="1078.71" stroke="#ff7f0e" stroke-width="4.8"/>
<line x1="1193" y1="1205.61" x2="1193" y2="1097.68" stroke="#ff7f0e" stroke-width="4.8"/>
<line x1="1923" y1="1201.46" x2="1923" y2="1027.12" stroke="#ff7f0e" stroke-width="4.8"/>
<line x1="272.2" y1="1189.6" x2="2000.6" y2="1189.6" stroke="#000" stroke-width="4.6" stroke-dasharray="16.9 7.731" stroke-dashoffset="-0.47"/>
</g>
<rect x="272.2" y="956.6" width="1728.4" height="506" fill="none" stroke="#000" stroke-width="2.5"/>
<line x1="351" y1="1462.6" x2="351" y2="1473.3" stroke="#000" stroke-width="2.5"/>
<text x="351" y="1507.4" font-size="30.5" text-anchor="middle">1</text>
<line x1="463.3" y1="1462.6" x2="463.3" y2="1473.3" stroke="#000" stroke-width="2.5"/>
<text x="463.3" y="1507.4" font-size="30.5" text-anchor="middle">2</text>
<line x1="575.5" y1="1462.6" x2="575.5" y2="1473.3" stroke="#000" stroke-width="2.5"/>
<text x="575.5" y="1507.4" font-size="30.5" text-anchor="middle">3a</text>
<line x1="631.6" y1="1462.6" x2="631.6" y2="1473.3" stroke="#000" stroke-width="2.5"/>
<text x="631.6" y="1507.4" font-size="30.5" text-anchor="middle">3b</text>
<line x1="687.8" y1="1462.6" x2="687.8" y2="1473.3" stroke="#000" stroke-width="2.5"/>
<text x="687.8" y="1507.4" font-size="30.5" text-anchor="middle">4</text>
<line x1="1193" y1="1462.6" x2="1193" y2="1473.3" stroke="#000" stroke-width="2.5"/>
<text x="1193" y="1507.4" font-size="30.5" text-anchor="middle">8</text>
<line x1="1923" y1="1462.6" x2="1923" y2="1473.3" stroke="#000" stroke-width="2.5"/>
<text x="1923" y="1507.4" font-size="30.5" text-anchor="middle">15</text>
<line x1="261.5" y1="1426.8" x2="272.2" y2="1426.8" stroke="#000" stroke-width="2.5"/>
<text x="251" y="1440.29" font-size="37" text-anchor="end">−4</text>
<line x1="261.5" y1="1308.2" x2="272.2" y2="1308.2" stroke="#000" stroke-width="2.5"/>
<text x="251" y="1321.69" font-size="37" text-anchor="end">−2</text>
<line x1="261.5" y1="1189.6" x2="272.2" y2="1189.6" stroke="#000" stroke-width="2.5"/>
<text x="251" y="1203.09" font-size="37" text-anchor="end">0</text>
<line x1="261.5" y1="1071" x2="272.2" y2="1071" stroke="#000" stroke-width="2.5"/>
<text x="251" y="1084.49" font-size="37" text-anchor="end">2</text>
<text x="1136.4" y="1550.3" font-size="30.5" text-anchor="middle">Day</text>
<text transform="translate(134.1,1209.6) rotate(-90)" font-size="37" text-anchor="middle">log<tspan font-size="25.9" dy="6">10</tspan><tspan dy="-6"> CFU/g</tspan></text>
<text transform="translate(176.1,1209.6) rotate(-90)" font-size="37" text-anchor="middle">change from baseline</text>
<rect x="307.9" y="1563.3" width="357.3" height="505.2" fill="#f2f2f2"/>
<line x1="307.9" y1="1563.3" x2="307.9" y2="2068.5" stroke="#b0b0b0" stroke-width="2.1"/>
<line x1="665.2" y1="1563.3" x2="665.2" y2="2068.5" stroke="#b0b0b0" stroke-width="2.1"/>
<line x1="1022.5" y1="1563.3" x2="1022.5" y2="2068.5" stroke="#b0b0b0" stroke-width="2.1"/>
<line x1="272.2" y1="2045.8" x2="1058.7" y2="2045.8" stroke="#b0b0b0" stroke-width="2.1"/>
<line x1="272.2" y1="1932.9" x2="1058.7" y2="1932.9" stroke="#b0b0b0" stroke-width="2.1"/>
<line x1="272.2" y1="1820" x2="1058.7" y2="1820" stroke="#b0b0b0" stroke-width="2.1"/>
<line x1="272.2" y1="1707.1" x2="1058.7" y2="1707.1" stroke="#b0b0b0" stroke-width="2.1"/>
<line x1="272.2" y1="1594.2" x2="1058.7" y2="1594.2" stroke="#b0b0b0" stroke-width="2.1"/>
<g clip-path="url(#cC)">
<polyline points="307.9,1586.3 665.2,1921.61 1022.5,1826.21" fill="none" stroke="#0000ff" stroke-width="1.5" stroke-opacity="0.5" stroke-linejoin="round"/>
<circle cx="307.9" cy="1586.3" r="9.5" fill="#0000ff" fill-opacity="0.5" stroke="#0000ff" stroke-opacity="0.5" stroke-width="3.1"/>
<circle cx="665.2" cy="1921.61" r="9.5" fill="#0000ff" fill-opacity="0.5" stroke="#0000ff" stroke-opacity="0.5" stroke-width="3.1"/>
<circle cx="1022.5" cy="1826.21" r="9.5" fill="#0000ff" fill-opacity="0.5" stroke="#0000ff" stroke-opacity="0.5" stroke-width="3.1"/>
<polyline points="307.9,1616.78 665.2,1810.4 1022.5,1590.25" fill="none" stroke="#0000ff" stroke-width="1.5" stroke-opacity="0.5" stroke-linejoin="round"/>
<circle cx="307.9" cy="1616.78" r="9.5" fill="#0000ff" fill-opacity="0.5" stroke="#0000ff" stroke-opacity="0.5" stroke-width="3.1"/>
<circle cx="665.2" cy="1810.4" r="9.5" fill="#0000ff" fill-opacity="0.5" stroke="#0000ff" stroke-opacity="0.5" stroke-width="3.1"/>
<circle cx="1022.5" cy="1590.25" r="9.5" fill="#0000ff" fill-opacity="0.5" stroke="#0000ff" stroke-opacity="0.5" stroke-width="3.1"/>
<polyline points="307.9,1716.13 665.2,1762.99 1022.5,1769.76" fill="none" stroke="#0000ff" stroke-width="1.5" stroke-opacity="0.5" stroke-linejoin="round"/>
<circle cx="307.9" cy="1716.13" r="9.5" fill="#0000ff" fill-opacity="0.5" stroke="#0000ff" stroke-opacity="0.5" stroke-width="3.1"/>
<circle cx="665.2" cy="1762.99" r="9.5" fill="#0000ff" fill-opacity="0.5" stroke="#0000ff" stroke-opacity="0.5" stroke-width="3.1"/>
<circle cx="1022.5" cy="1769.76" r="9.5" fill="#0000ff" fill-opacity="0.5" stroke="#0000ff" stroke-opacity="0.5" stroke-width="3.1"/>
<polyline points="307.9,1757.9 665.2,1833.55 1022.5,1931.77" fill="none" stroke="#0000ff" stroke-width="1.5" stroke-opacity="0.5" stroke-linejoin="round"/>
<circle cx="307.9" cy="1757.9" r="9.5" fill="#0000ff" fill-opacity="0.5" stroke="#0000ff" stroke-opacity="0.5" stroke-width="3.1"/>
<circle cx="665.2" cy="1833.55" r="9.5" fill="#0000ff" fill-opacity="0.5" stroke="#0000ff" stroke-opacity="0.5" stroke-width="3.1"/>
<circle cx="1022.5" cy="1931.77" r="9.5" fill="#0000ff" fill-opacity="0.5" stroke="#0000ff" stroke-opacity="0.5" stroke-width="3.1"/>
<polyline points="307.9,1894.51 665.2,1922.74 1022.5,1989.91" fill="none" stroke="#0000ff" stroke-width="1.5" stroke-opacity="0.5" stroke-linejoin="round"/>
<circle cx="307.9" cy="1894.51" r="9.5" fill="#0000ff" fill-opacity="0.5" stroke="#0000ff" stroke-opacity="0.5" stroke-width="3.1"/>
<circle cx="665.2" cy="1922.74" r="9.5" fill="#0000ff" fill-opacity="0.5" stroke="#0000ff" stroke-opacity="0.5" stroke-width="3.1"/>
<circle cx="1022.5" cy="1989.91" r="9.5" fill="#0000ff" fill-opacity="0.5" stroke="#0000ff" stroke-opacity="0.5" stroke-width="3.1"/>
<polyline points="307.9,2029.09 665.2,1956.04 1022.5,2020.4" fill="none" stroke="#0000ff" stroke-width="1.5" stroke-opacity="0.5" stroke-linejoin="round"/>
<circle cx="307.9" cy="2029.09" r="9.5" fill="#0000ff" fill-opacity="0.5" stroke="#0000ff" stroke-opacity="0.5" stroke-width="3.1"/>
<circle cx="665.2" cy="1956.04" r="9.5" fill="#0000ff" fill-opacity="0.5" stroke="#0000ff" stroke-opacity="0.5" stroke-width="3.1"/>
<circle cx="1022.5" cy="2020.4" r="9.5" fill="#0000ff" fill-opacity="0.5" stroke="#0000ff" stroke-opacity="0.5" stroke-width="3.1"/>
<polyline points="307.9,2045.8 665.2,2045.8 1022.5,2045.8" fill="none" stroke="#0000ff" stroke-width="1.5" stroke-opacity="0.5" stroke-linejoin="round"/>
<circle cx="307.9" cy="2045.8" r="9.5" fill="#0000ff" fill-opacity="0.5" stroke="#0000ff" stroke-opacity="0.5" stroke-width="3.1"/>
<circle cx="665.2" cy="2045.8" r="9.5" fill="#0000ff" fill-opacity="0.5" stroke="#0000ff" stroke-opacity="0.5" stroke-width="3.1"/>
<circle cx="1022.5" cy="2045.8" r="9.5" fill="#0000ff" fill-opacity="0.5" stroke="#0000ff" stroke-opacity="0.5" stroke-width="3.1"/>
<polyline points="307.9,1769.19 665.2,1729.68 1022.5,1586.86" fill="none" stroke="#ffa500" stroke-width="1.5" stroke-opacity="0.5" stroke-linejoin="round"/>
<circle cx="307.9" cy="1769.19" r="9.5" fill="#ffa500" fill-opacity="0.5" stroke="#ffa500" stroke-opacity="0.5" stroke-width="3.1"/>
<circle cx="665.2" cy="1729.68" r="9.5" fill="#ffa500" fill-opacity="0.5" stroke="#ffa500" stroke-opacity="0.5" stroke-width="3.1"/>
<circle cx="1022.5" cy="1586.86" r="9.5" fill="#ffa500" fill-opacity="0.5" stroke="#ffa500" stroke-opacity="0.5" stroke-width="3.1"/>
<polyline points="307.9,1979.75 665.2,1915.4 1022.5,1812.66" fill="none" stroke="#ffa500" stroke-width="1.5" stroke-opacity="0.5" stroke-linejoin="round"/>
<circle cx="307.9" cy="1979.75" r="9.5" fill="#ffa500" fill-opacity="0.5" stroke="#ffa500" stroke-opacity="0.5" stroke-width="3.1"/>
<circle cx="665.2" cy="1915.4" r="9.5" fill="#ffa500" fill-opacity="0.5" stroke="#ffa500" stroke-opacity="0.5" stroke-width="3.1"/>
<circle cx="1022.5" cy="1812.66" r="9.5" fill="#ffa500" fill-opacity="0.5" stroke="#ffa500" stroke-opacity="0.5" stroke-width="3.1"/>
<polyline points="307.9,1807.02 665.2,1892.82 1022.5,1882.1" fill="none" stroke="#1f77b4" stroke-width="12.4" stroke-linejoin="round"/>
<circle cx="307.9" cy="1807.02" r="9.15" fill="#1f77b4" stroke="#fff" stroke-width="2.3"/>
<circle cx="665.2" cy="1892.82" r="9.15" fill="#1f77b4" stroke="#fff" stroke-width="2.3"/>
<circle cx="1022.5" cy="1882.1" r="9.15" fill="#1f77b4" stroke="#fff" stroke-width="2.3"/>
<line x1="307.9" y1="1879.27" x2="307.9" y2="1734.76" stroke="#1f77b4" stroke-width="4.8"/>
<line x1="665.2" y1="1931.77" x2="665.2" y2="1853.87" stroke="#1f77b4" stroke-width="4.8"/>
<line x1="1022.5" y1="1945.88" x2="1022.5" y2="1817.74" stroke="#1f77b4" stroke-width="4.8"/>
<polyline points="307.9,1874.19 665.2,1821.69 1022.5,1699.76" fill="none" stroke="#ff7f0e" stroke-width="12.4" stroke-linejoin="round"/>
<circle cx="307.9" cy="1874.19" r="9.15" fill="#ff7f0e" stroke="#fff" stroke-width="2.3"/>
<circle cx="665.2" cy="1821.69" r="9.15" fill="#ff7f0e" stroke="#fff" stroke-width="2.3"/>
<circle cx="1022.5" cy="1699.76" r="9.15" fill="#ff7f0e" stroke="#fff" stroke-width="2.3"/>
<line x1="307.9" y1="1982.29" x2="307.9" y2="1765.81" stroke="#ff7f0e" stroke-width="4.8"/>
<line x1="665.2" y1="1916.53" x2="665.2" y2="1727.99" stroke="#ff7f0e" stroke-width="4.8"/>
<line x1="1022.5" y1="1816.61" x2="1022.5" y2="1584.6" stroke="#ff7f0e" stroke-width="4.8"/>
</g>
<rect x="272.2" y="1563.3" width="786.5" height="505.2" fill="none" stroke="#000" stroke-width="2.5"/>
<line x1="307.9" y1="2068.5" x2="307.9" y2="2079.2" stroke="#000" stroke-width="2.5"/>
<text x="307.9" y="2119" font-size="37" text-anchor="middle">1</text>
<line x1="665.2" y1="2068.5" x2="665.2" y2="2079.2" stroke="#000" stroke-width="2.5"/>
<text x="665.2" y="2119" font-size="37" text-anchor="middle">8</text>
<line x1="1022.5" y1="2068.5" x2="1022.5" y2="2079.2" stroke="#000" stroke-width="2.5"/>
<text x="1022.5" y="2119" font-size="37" text-anchor="middle">15</text>
<line x1="261.5" y1="2045.8" x2="272.2" y2="2045.8" stroke="#000" stroke-width="2.5"/>
<text x="250.9" y="2059.29" font-size="37" text-anchor="end">0</text>
<line x1="261.5" y1="1932.9" x2="272.2" y2="1932.9" stroke="#000" stroke-width="2.5"/>
<text x="250.9" y="1946.39" font-size="37" text-anchor="end">20</text>
<line x1="261.5" y1="1820" x2="272.2" y2="1820" stroke="#000" stroke-width="2.5"/>
<text x="250.9" y="1833.49" font-size="37" text-anchor="end">40</text>
<line x1="261.5" y1="1707.1" x2="272.2" y2="1707.1" stroke="#000" stroke-width="2.5"/>
<text x="250.9" y="1720.59" font-size="37" text-anchor="end">60</text>
<line x1="261.5" y1="1594.2" x2="272.2" y2="1594.2" stroke="#000" stroke-width="2.5"/>
<text x="250.9" y="1607.69" font-size="37" text-anchor="end">80</text>
<text x="665.5" y="2162.5" font-size="30.5" text-anchor="middle">Day</text>
<text transform="translate(141.3,1818) rotate(-90)" font-size="37" text-anchor="middle"><tspan font-style="italic">P. aeruginosa</tspan></text>
<text transform="translate(183.8,1816) rotate(-90)" font-size="37" text-anchor="middle">relative abundance [%]</text>
<rect x="1251.3" y="1563.3" width="357" height="505.6" fill="#f2f2f2"/>
<line x1="1251.3" y1="1563.3" x2="1251.3" y2="2068.9" stroke="#b0b0b0" stroke-width="2.1"/>
<line x1="1608.3" y1="1563.3" x2="1608.3" y2="2068.9" stroke="#b0b0b0" stroke-width="2.1"/>
<line x1="1965.7" y1="1563.3" x2="1965.7" y2="2068.9" stroke="#b0b0b0" stroke-width="2.1"/>
<line x1="1215.6" y1="1967.75" x2="2001" y2="1967.75" stroke="#b0b0b0" stroke-width="2.1"/>
<line x1="1215.6" y1="1846.4" x2="2001" y2="1846.4" stroke="#b0b0b0" stroke-width="2.1"/>
<line x1="1215.6" y1="1725.05" x2="2001" y2="1725.05" stroke="#b0b0b0" stroke-width="2.1"/>
<line x1="1215.6" y1="1603.7" x2="2001" y2="1603.7" stroke="#b0b0b0" stroke-width="2.1"/>
<g clip-path="url(#cD)">
<polyline points="1251.3,1586.71 1608.3,1629.55 1965.7,1622.63" fill="none" stroke="#0000ff" stroke-width="1.5" stroke-opacity="0.5" stroke-linejoin="round"/>
<circle cx="1251.3" cy="1586.71" r="9.5" fill="#0000ff" fill-opacity="0.5" stroke="#0000ff" stroke-opacity="0.5" stroke-width="3.1"/>
<circle cx="1608.3" cy="1629.55" r="9.5" fill="#0000ff" fill-opacity="0.5" stroke="#0000ff" stroke-opacity="0.5" stroke-width="3.1"/>
<circle cx="1965.7" cy="1622.63" r="9.5" fill="#0000ff" fill-opacity="0.5" stroke="#0000ff" stroke-opacity="0.5" stroke-width="3.1"/>
<polyline points="1251.3,1680.15 1608.3,1669.23 1965.7,1634.89" fill="none" stroke="#0000ff" stroke-width="1.5" stroke-opacity="0.5" stroke-linejoin="round"/>
<circle cx="1251.3" cy="1680.15" r="9.5" fill="#0000ff" fill-opacity="0.5" stroke="#0000ff" stroke-opacity="0.5" stroke-width="3.1"/>
<circle cx="1608.3" cy="1669.23" r="9.5" fill="#0000ff" fill-opacity="0.5" stroke="#0000ff" stroke-opacity="0.5" stroke-width="3.1"/>
<circle cx="1965.7" cy="1634.89" r="9.5" fill="#0000ff" fill-opacity="0.5" stroke="#0000ff" stroke-opacity="0.5" stroke-width="3.1"/>
<polyline points="1251.3,1778.93 1608.3,1793.01 1965.7,1743.01" fill="none" stroke="#0000ff" stroke-width="1.5" stroke-opacity="0.5" stroke-linejoin="round"/>
<circle cx="1251.3" cy="1778.93" r="9.5" fill="#0000ff" fill-opacity="0.5" stroke="#0000ff" stroke-opacity="0.5" stroke-width="3.1"/>
<circle cx="1608.3" cy="1793.01" r="9.5" fill="#0000ff" fill-opacity="0.5" stroke="#0000ff" stroke-opacity="0.5" stroke-width="3.1"/>
<circle cx="1965.7" cy="1743.01" r="9.5" fill="#0000ff" fill-opacity="0.5" stroke="#0000ff" stroke-opacity="0.5" stroke-width="3.1"/>
<polyline points="1251.3,1854.29 1608.3,1821.4 1965.7,1813.64" fill="none" stroke="#0000ff" stroke-width="1.5" stroke-opacity="0.5" stroke-linejoin="round"/>
<circle cx="1251.3" cy="1854.29" r="9.5" fill="#0000ff" fill-opacity="0.5" stroke="#0000ff" stroke-opacity="0.5" stroke-width="3.1"/>
<circle cx="1608.3" cy="1821.4" r="9.5" fill="#0000ff" fill-opacity="0.5" stroke="#0000ff" stroke-opacity="0.5" stroke-width="3.1"/>
<circle cx="1965.7" cy="1813.64" r="9.5" fill="#0000ff" fill-opacity="0.5" stroke="#0000ff" stroke-opacity="0.5" stroke-width="3.1"/>
<polyline points="1251.3,1937.41 1608.3,1895.43 1965.7,1818.49" fill="none" stroke="#0000ff" stroke-width="1.5" stroke-opacity="0.5" stroke-linejoin="round"/>
<circle cx="1251.3" cy="1937.41" r="9.5" fill="#0000ff" fill-opacity="0.5" stroke="#0000ff" stroke-opacity="0.5" stroke-width="3.1"/>
<circle cx="1608.3" cy="1895.43" r="9.5" fill="#0000ff" fill-opacity="0.5" stroke="#0000ff" stroke-opacity="0.5" stroke-width="3.1"/>
<circle cx="1965.7" cy="1818.49" r="9.5" fill="#0000ff" fill-opacity="0.5" stroke="#0000ff" stroke-opacity="0.5" stroke-width="3.1"/>
<polyline points="1251.3,2016.29 1608.3,1788.15 1965.7,1807.57" fill="none" stroke="#0000ff" stroke-width="1.5" stroke-opacity="0.5" stroke-linejoin="round"/>
<circle cx="1251.3" cy="2016.29" r="9.5" fill="#0000ff" fill-opacity="0.5" stroke="#0000ff" stroke-opacity="0.5" stroke-width="3.1"/>
<circle cx="1608.3" cy="1788.15" r="9.5" fill="#0000ff" fill-opacity="0.5" stroke="#0000ff" stroke-opacity="0.5" stroke-width="3.1"/>
<circle cx="1965.7" cy="1807.57" r="9.5" fill="#0000ff" fill-opacity="0.5" stroke="#0000ff" stroke-opacity="0.5" stroke-width="3.1"/>
<polyline points="1251.3,2016.29 1608.3,1874.31 1965.7,2045.17" fill="none" stroke="#0000ff" stroke-width="1.5" stroke-opacity="0.5" stroke-linejoin="round"/>
<circle cx="1251.3" cy="2016.29" r="9.5" fill="#0000ff" fill-opacity="0.5" stroke="#0000ff" stroke-opacity="0.5" stroke-width="3.1"/>
<circle cx="1608.3" cy="1874.31" r="9.5" fill="#0000ff" fill-opacity="0.5" stroke="#0000ff" stroke-opacity="0.5" stroke-width="3.1"/>
<circle cx="1965.7" cy="2045.17" r="9.5" fill="#0000ff" fill-opacity="0.5" stroke="#0000ff" stroke-opacity="0.5" stroke-width="3.1"/>
<polyline points="1251.3,1812.06 1608.3,1802.71 1965.7,1907.44" fill="none" stroke="#ffa500" stroke-width="1.5" stroke-opacity="0.5" stroke-linejoin="round"/>
<circle cx="1251.3" cy="1812.06" r="9.5" fill="#ffa500" fill-opacity="0.5" stroke="#ffa500" stroke-opacity="0.5" stroke-width="3.1"/>
<circle cx="1608.3" cy="1802.71" r="9.5" fill="#ffa500" fill-opacity="0.5" stroke="#ffa500" stroke-opacity="0.5" stroke-width="3.1"/>
<circle cx="1965.7" cy="1907.44" r="9.5" fill="#ffa500" fill-opacity="0.5" stroke="#ffa500" stroke-opacity="0.5" stroke-width="3.1"/>
<polyline points="1251.3,1846.4 1608.3,1909.99 1965.7,2046.87" fill="none" stroke="#ffa500" stroke-width="1.5" stroke-opacity="0.5" stroke-linejoin="round"/>
<circle cx="1251.3" cy="1846.4" r="9.5" fill="#ffa500" fill-opacity="0.5" stroke="#ffa500" stroke-opacity="0.5" stroke-width="3.1"/>
<circle cx="1608.3" cy="1909.99" r="9.5" fill="#ffa500" fill-opacity="0.5" stroke="#ffa500" stroke-opacity="0.5" stroke-width="3.1"/>
<circle cx="1965.7" cy="2046.87" r="9.5" fill="#ffa500" fill-opacity="0.5" stroke="#ffa500" stroke-opacity="0.5" stroke-width="3.1"/>
<polyline points="1251.3,1839.12 1608.3,1780.39 1965.7,1784.03" fill="none" stroke="#1f77b4" stroke-width="12.4" stroke-linejoin="round"/>
<circle cx="1251.3" cy="1839.12" r="9.15" fill="#1f77b4" stroke="#fff" stroke-width="2.3"/>
<circle cx="1608.3" cy="1780.39" r="9.15" fill="#1f77b4" stroke="#fff" stroke-width="2.3"/>
<circle cx="1965.7" cy="1784.03" r="9.15" fill="#1f77b4" stroke="#fff" stroke-width="2.3"/>
<line x1="1251.3" y1="1903.43" x2="1251.3" y2="1774.8" stroke="#1f77b4" stroke-width="4.8"/>
<line x1="1608.3" y1="1822.13" x2="1608.3" y2="1742.04" stroke="#1f77b4" stroke-width="4.8"/>
<line x1="1965.7" y1="1839.12" x2="1965.7" y2="1729.05" stroke="#1f77b4" stroke-width="4.8"/>
<polyline points="1251.3,1829.05 1608.3,1856.11 1965.7,1976.37" fill="none" stroke="#ff7f0e" stroke-width="12.4" stroke-linejoin="round"/>
<circle cx="1251.3" cy="1829.05" r="9.15" fill="#ff7f0e" stroke="#fff" stroke-width="2.3"/>
<circle cx="1608.3" cy="1856.11" r="9.15" fill="#ff7f0e" stroke="#fff" stroke-width="2.3"/>
<circle cx="1965.7" cy="1976.37" r="9.15" fill="#ff7f0e" stroke="#fff" stroke-width="2.3"/>
<line x1="1251.3" y1="1847.61" x2="1251.3" y2="1809.99" stroke="#ff7f0e" stroke-width="4.8"/>
<line x1="1608.3" y1="1912.54" x2="1608.3" y2="1800.29" stroke="#ff7f0e" stroke-width="4.8"/>
<line x1="1965.7" y1="2048.21" x2="1965.7" y2="1906.23" stroke="#ff7f0e" stroke-width="4.8"/>
</g>
<rect x="1215.6" y="1563.3" width="785.4" height="505.6" fill="none" stroke="#000" stroke-width="2.5"/>
<line x1="1251.3" y1="2068.9" x2="1251.3" y2="2079.6" stroke="#000" stroke-width="2.5"/>
<text x="1251.3" y="2119" font-size="37" text-anchor="middle">1</text>
<line x1="1608.3" y1="2068.9" x2="1608.3" y2="2079.6" stroke="#000" stroke-width="2.5"/>
<text x="1608.3" y="2119" font-size="37" text-anchor="middle">8</text>
<line x1="1965.7" y1="2068.9" x2="1965.7" y2="2079.6" stroke="#000" stroke-width="2.5"/>
<text x="1965.7" y="2119" font-size="37" text-anchor="middle">15</text>
<line x1="1204.9" y1="1967.75" x2="1215.6" y2="1967.75" stroke="#000" stroke-width="2.5"/>
<text x="1194.9" y="1981.24" font-size="37" text-anchor="end">2</text>
<line x1="1204.9" y1="1846.4" x2="1215.6" y2="1846.4" stroke="#000" stroke-width="2.5"/>
<text x="1194.9" y="1859.89" font-size="37" text-anchor="end">3</text>
<line x1="1204.9" y1="1725.05" x2="1215.6" y2="1725.05" stroke="#000" stroke-width="2.5"/>
<text x="1194.9" y="1738.54" font-size="37" text-anchor="end">4</text>
<line x1="1204.9" y1="1603.7" x2="1215.6" y2="1603.7" stroke="#000" stroke-width="2.5"/>
<text x="1194.9" y="1617.19" font-size="37" text-anchor="end">5</text>
<text x="1608.3" y="2162.5" font-size="30.5" text-anchor="middle">Day</text>
<text transform="translate(1150.3,1816) rotate(-90)" font-size="37" text-anchor="middle">Shannon index</text>
<text x="91.5" y="393.9" font-size="69" font-weight="bold">A</text>
<text x="84.8" y="994.3" font-size="69" font-weight="bold">B</text>
<text x="86.5" y="1597.2" font-size="69" font-weight="bold">C</text>
<text x="1227.5" y="1546" font-size="69" font-weight="bold">D</text>
</svg></body></html>
